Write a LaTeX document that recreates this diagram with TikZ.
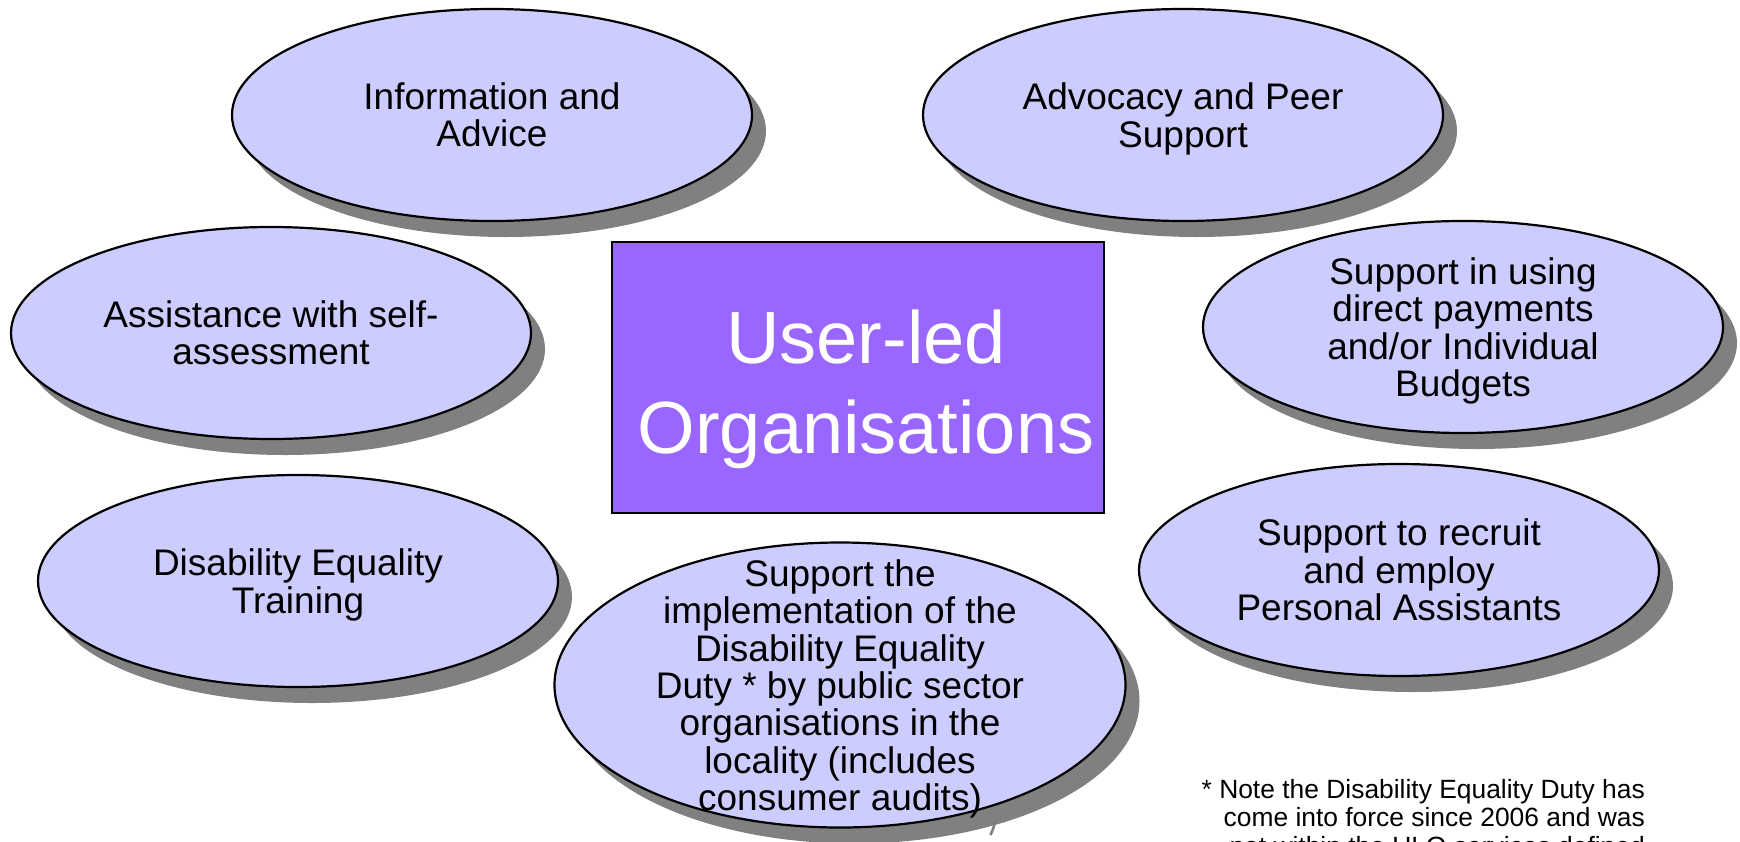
\documentclass[tikz,border=0pt]{standalone}
\usepackage{fontspec}
\setmainfont{Liberation Sans}
\usetikzlibrary{shapes.geometric,shadows}
\definecolor{bubfill}{HTML}{CCCCFF}
\definecolor{boxfill}{HTML}{9966FF}
\definecolor{shadegray}{HTML}{808080}
\begin{document}
\begin{tikzpicture}[x=1pt,y=-1pt,
  bub/.style={ellipse, draw=black, line width=2.2pt, fill=bubfill, inner sep=0pt,
    minimum width=520pt, minimum height=212pt,
    drop shadow={shadow xshift=14pt, shadow yshift=-16pt, fill=shadegray, opacity=1}},
  bubtext/.style={align=center, font=\fontsize{37}{37.4}\selectfont, text=black, inner sep=0pt},
  hubbox/.style={rectangle, draw=black, line width=2pt, fill=boxfill, inner sep=0pt,
    minimum width=492pt, minimum height=271pt},
  hubtext/.style={align=center, font=\fontsize{74}{90}\selectfont, text=white, inner sep=0pt},
  notetext/.style={align=right, font=\fontsize{26.4}{28.5}\selectfont, text=black, inner sep=0pt}]
\useasboundingbox (0,0) rectangle (1740,841);
\clip (0,0) rectangle (1740,841);

% top row
\node[bub] (info) at (492,115) {};
\node[bubtext] (infot) at (info.center) {Information and\\Advice};
\node[bub] (advo) at (1183,115) {};
\node[bubtext] (advot) at ([yshift=-4pt]advo.center) {Advocacy and Peer\\Support};

% middle row
\node[bub] (assist) at (271,333) {};
\node[bubtext] (assistt) at (assist.center) {Assistance with self-\\assessment};
\node[bub] (using) at (1463,327) {};
\node[bubtext] (usingt) at ([yshift=-4pt]using.center) {Support in using\\direct payments\\and/or Individual\\Budgets};

% centre box
\node[hubbox] (hub) at (858,377.5) {};
\node[hubtext] (hubt) at (866,389) {User-led\\Organisations};

% lower row
\node[bub] (det) at (298,581) {};
\node[bubtext] (dett) at ([yshift=-4pt]det.center) {Disability Equality\\Training};
\node[bub] (recruit) at (1399,570) {};
\node[bubtext] (recruitt) at (recruit.center) {Support to recruit\\and employ\\Personal Assistants};

% bottom ellipse
\coordinate (ps1) at (994.5,824);
\coordinate (ps2) at (990.5,835);
\draw[shadegray, line width=2.6pt] (ps1) .. controls (993.5,828) .. (ps2);
\node[bub, minimum width=571pt, minimum height=285pt] (duty) at (840,685) {};
\node[bubtext] (dutyt) at (840,689) {Support the\\implementation of the\\Disability Equality\\Duty * by public sector\\organisations in the\\locality (includes\\consumer audits)};

% footnote
\node[notetext, anchor=north east] (note) at (1645,779) {* Note the Disability Equality Duty has\\come into force since 2006 and was\\not within the ULO services defined};
\end{tikzpicture}
\end{document}
